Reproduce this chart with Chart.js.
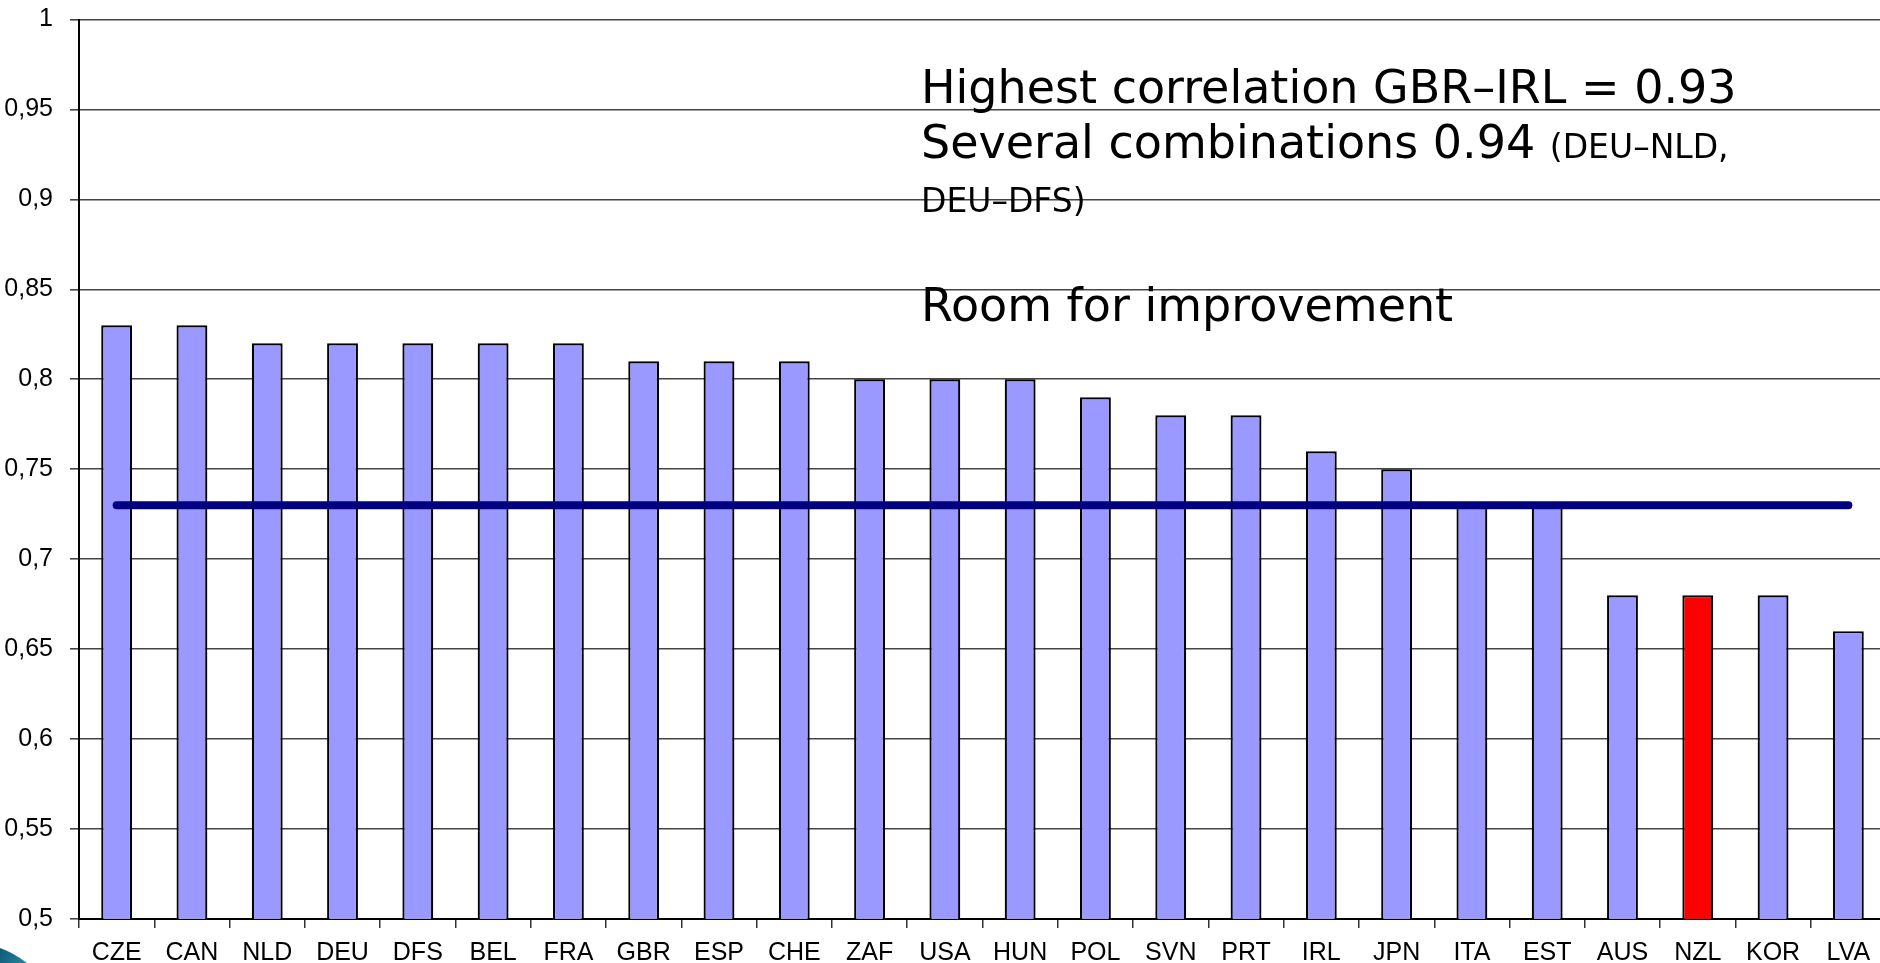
<!DOCTYPE html>
<html>
<head>
<meta charset="utf-8">
<script src="https://cdn.jsdelivr.net/npm/chart.js@4"></script>
<style>
  html, body { margin: 0; padding: 0; background: #fff; overflow: hidden; }
  #wrap { position: relative; width: 1895px; height: 963px; }
</style>
</head>
<body>
<div id="wrap"><canvas id="c"></canvas></div>
<script>
const categories = ['CZE','CAN','NLD','DEU','DFS','BEL','FRA','GBR','ESP','CHE','ZAF','USA','HUN','POL','SVN','PRT','IRL','JPN','ITA','EST','AUS','NZL','KOR','LVA'];
const correlations = [0.83,0.83,0.82,0.82,0.82,0.82,0.82,0.81,0.81,0.81,0.80,0.80,0.80,0.79,0.78,0.78,0.76,0.75,0.73,0.73,0.68,0.68,0.68,0.66];
const averageValue = 0.73;
const highlighted = 'NZL';
const annotationLines = [
  [{ text: 'Highest correlation GBR\u2013IRL = 0.93', big: true }],
  [{ text: 'Several combinations 0.94 ', big: true }, { text: '(DEU\u2013NLD,', big: false }],
  [{ text: 'DEU\u2013DFS)', big: false }],
  [],
  [{ text: 'Room for improvement', big: true }]
];

const barColors = categories.map(c => c === highlighted ? '#FF0000' : '#9999FF');
const avgSeries = categories.map(() => averageValue);

const annotationPlugin = {
  id: 'annot',
  afterDraw(chart) {
    const ctx = chart.ctx;
    ctx.save();
    ctx.fillStyle = '#000';
    ctx.textBaseline = 'alphabetic';
    const baselines = [103, 158, 212, 266, 321];
    annotationLines.forEach((parts, i) => {
      let x = 921;
      parts.forEach(p => {
        ctx.font = (p.big ? '46px' : '33px') + ' "DejaVu Sans"';
        ctx.fillText(p.text, x, baselines[i]);
        x += ctx.measureText(p.text).width;
      });
    });
    // bottom-left decorative swoosh
    const g = ctx.createLinearGradient(0, 948, 30, 963);
    g.addColorStop(0, '#0f5a78');
    g.addColorStop(1, '#2a8aa0');
    ctx.fillStyle = g;
    ctx.beginPath();
    ctx.moveTo(0, 948);
    ctx.quadraticCurveTo(14, 953, 27, 963);
    ctx.lineTo(0, 963);
    ctx.closePath();
    ctx.fill();
    ctx.restore();
  }
};

new Chart(document.getElementById('c'), {
  data: {
    labels: categories,
    datasets: [
      {
        type: 'line',
        data: avgSeries,
        borderColor: '#000080',
        borderWidth: 8,
        borderCapStyle: 'round',
        pointRadius: 0,
        fill: false,
        order: 1
      },
      {
        type: 'bar',
        data: correlations,
        backgroundColor: barColors,
        borderColor: '#000',
        borderWidth: 2.2,
        categoryPercentage: 1,
        barPercentage: 0.41,
        order: 2
      }
    ]
  },
  options: {
    responsive: true,
    maintainAspectRatio: false,
    animation: false,
    layout: { padding: { top: 19.5, left: 0, right: 9, bottom: 0 } },
    plugins: { legend: { display: false }, tooltip: { enabled: false } },
    scales: {
      x: {
        offset: true,
        grid: { display: true, drawOnChartArea: false, drawTicks: true, tickLength: 9, color: '#333', lineWidth: 1.5, offset: true },
        border: { display: true, color: '#000', width: 2 },
        ticks: { color: '#000', font: { family: '"Liberation Sans", Arial', size: 25 }, padding: 10, maxRotation: 0, autoSkip: false },
        afterFit(scale) { scale.height = 44; }
      },
      y: {
        min: 0.5,
        max: 1,
        grid: { color: '#444', lineWidth: 1.6, tickLength: 9, drawTicks: true },
        border: { display: true, color: '#000', width: 2 },
        ticks: {
          stepSize: 0.05,
          color: '#000',
          padding: 17,
          font: { family: '"Liberation Sans", Arial', size: 25 },
          callback: v => String(Math.round(v * 100) / 100).replace('.', ',')
        },
        afterFit(scale) { scale.width = 79; scale.paddingTop = 0; scale.paddingBottom = 0; }
      }
    }
  },
  plugins: [annotationPlugin]
});
</script>
</body>
</html>
